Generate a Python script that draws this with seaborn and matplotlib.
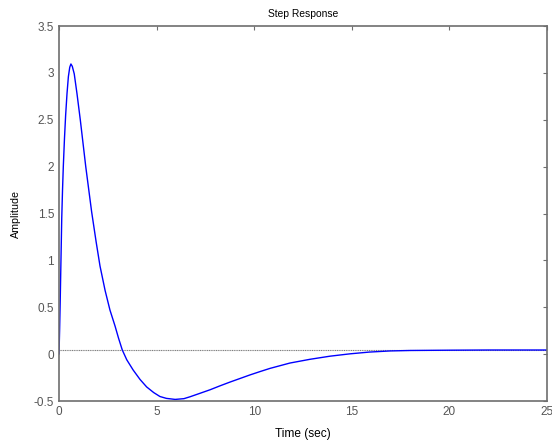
import matplotlib
matplotlib.use("Agg")
import matplotlib.pyplot as plt
import pandas as pd
import seaborn as sns

time_sec = [0.00, 0.03, 0.06, 0.10, 0.14, 0.18, 0.22, 0.28, 0.34, 0.41,
            0.48, 0.55, 0.61, 0.68, 0.78, 0.92, 1.09, 1.37, 1.67, 1.90,
            2.10, 2.36, 2.61, 2.87, 3.05, 3.24, 3.47, 3.80, 4.15, 4.49,
            4.85, 5.17, 5.50, 5.95, 6.40, 6.71, 7.22, 7.74, 8.25, 8.76,
            9.27, 9.78, 10.30, 10.81, 11.83, 12.86, 13.88, 14.90, 15.90, 16.96,
            18.00, 20.00, 22.00, 25.00]
amplitude = [0.00, 0.25, 0.55, 1.00, 1.45, 1.75, 2.00, 2.30, 2.55, 2.78,
             2.96, 3.06, 3.095, 3.07, 2.99, 2.78, 2.50, 2.00, 1.52, 1.20,
             0.94, 0.68, 0.47, 0.30, 0.17, 0.045, -0.06, -0.17, -0.27, -0.35,
             -0.41, -0.452, -0.472, -0.483, -0.475, -0.455, -0.418, -0.380, -0.338, -0.298,
             -0.260, -0.222, -0.186, -0.152, -0.095, -0.055, -0.022, 0.003, 0.022, 0.034,
             0.039, 0.042, 0.044, 0.044]
steady_state = 0.04

x_ticks = [0, 5, 10, 15, 20, 25]
y_ticks = [-0.5, 0, 0.5, 1, 1.5, 2, 2.5, 3, 3.5]
y_tick_labels = ["-0.5", "0", "0.5", "1", "1.5", "2", "2.5", "3", "3.5"]

df = pd.DataFrame({"Time": time_sec, "Amplitude": amplitude})

# ===== Style =====
sns.set_style("white")
plt.rcParams["font.family"] = ["Liberation Sans", "DejaVu Sans"]

fig = plt.figure(figsize=(5.52, 4.47), dpi=100)
ax = fig.add_axes([0.1069, 0.1029, 0.8841, 0.8389])

ax.axhline(steady_state, color="#7f7f7f", lw=0.8, ls=(0, (1, 0.6)), zorder=1)
sns.lineplot(data=df, x="Time", y="Amplitude", sort=False, color="#0000ff",
             lw=1.0, ax=ax, zorder=2)

ax.set_xlim(0, 25)
ax.set_ylim(-0.5, 3.5)
ax.set_xticks(x_ticks)
ax.set_xticklabels([str(t) for t in x_ticks])
ax.set_yticks(y_ticks)
ax.set_yticklabels(y_tick_labels)

ax.tick_params(direction="in", length=3, width=0.8, colors="#6e6e6e",
               labelcolor="#555555", labelsize=8.5, top=True, right=True, pad=3.5)
for s in ax.spines.values():
    s.set_color("#6e6e6e")
    s.set_linewidth(1.2)

ax.set_title("Step Response", fontsize=7.4, color="black", pad=6.5)
ax.set_xlabel("Time (sec)", fontsize=8.6, color="black", labelpad=7)
ax.set_ylabel("Amplitude", fontsize=7.7, color="black", labelpad=9)

fig.savefig("out.png", dpi=100)
